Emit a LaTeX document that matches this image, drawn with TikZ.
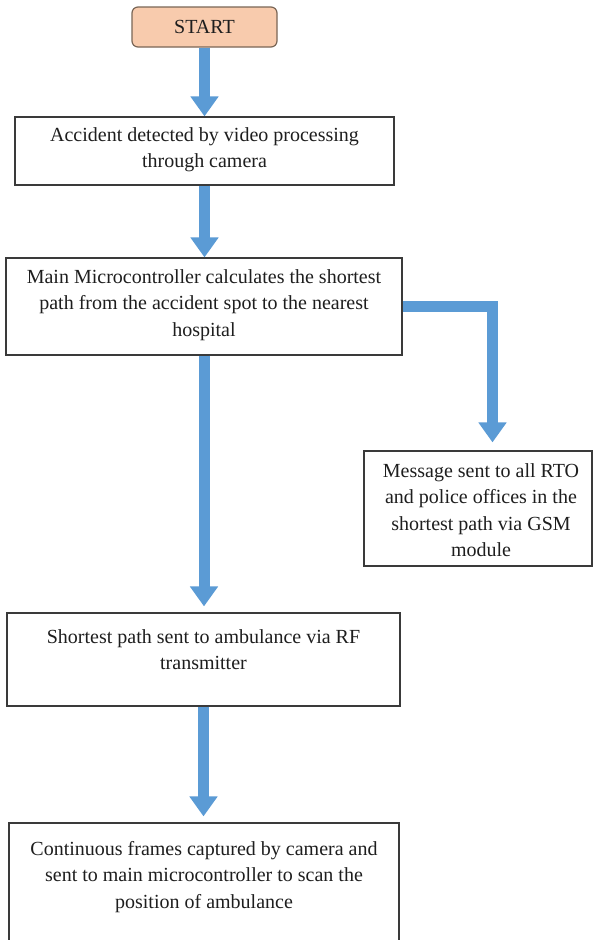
\documentclass[tikz,border=0pt]{standalone}
\usepackage{fontspec}
\setmainfont{Liberation Serif}
\usetikzlibrary{arrows.meta}
\definecolor{arrowblue}{HTML}{5B9BD5}
\definecolor{startfill}{HTML}{F8CBAD}
\definecolor{startedge}{HTML}{7A6656}
\definecolor{boxedge}{HTML}{3A3A3A}
\definecolor{txt}{HTML}{1E1E1E}
\newcommand{\flx}{\rule{0pt}{14pt}}
\begin{document}
\begin{tikzpicture}[x=1pt,y=-1pt,
  flowbox/.style={draw=boxedge,line width=1.2pt,rectangle,inner sep=0pt,fill=white},
  flowtext/.style={anchor=north,align=center,inner sep=0pt,text=txt,font=\fontsize{20}{26.5}\selectfont},
  startbox/.style={draw=startedge,line width=1.2pt,fill=startfill,rounded corners=6pt,inner sep=0pt,text=txt,font=\fontsize{20}{24}\selectfont},
  fatarrow/.style={draw=arrowblue,line width=11pt,line join=miter,-{Triangle[width=27pt,length=20pt]}}]
\useasboundingbox (0,0) rectangle (594,940);
\fill[white] (0,0) rectangle (594,940);
\clip (0,0) rectangle (594,940);

\node[startbox,minimum width=145pt,minimum height=40pt] (start) at (204.5,27) {START};
\node[flowbox,minimum width=379pt,minimum height=68pt] (b1) at (204.5,151) {};
\node[flowbox,minimum width=396pt,minimum height=97pt] (b2) at (204,306.5) {};
\node[flowbox,minimum width=228pt,minimum height=115pt] (b3) at (478,508.5) {};
\node[flowbox,minimum width=393pt,minimum height=93pt] (b4) at (203.5,659.5) {};
\node[flowbox,minimum width=390pt,minimum height=137pt] (b5) at (204,891.5) {};

\node[flowtext] (t1) at (204.5,127) {\flx Accident detected by video processing\\through camera};
\node[flowtext] (t2) at (204,269) {\flx Main Microcontroller calculates the shortest\\path from the accident spot to the nearest\\hospital};
\node[flowtext] (t3) at (481,463) {\flx Message sent to all RTO\\and police offices in the\\shortest path via GSM\\module};
\node[flowtext] (t4) at (203.5,629) {\flx Shortest path sent to ambulance via RF\\transmitter};
\node[flowtext] (t5) at (204,841) {\flx Continuous frames captured by camera and\\sent to main microcontroller to scan the\\position of ambulance};

\draw[fatarrow] (start.south) -- (b1.north);
\draw[fatarrow] (b1.south) -- (b1.south |- b2.north);
\draw[fatarrow] (b2.east) -| ([xshift=14.5pt]b3.north) [shorten >=8pt];
\draw[fatarrow,shorten >=6pt] (b2.south) -- (b2.south |- b4.north);
\draw[fatarrow,shorten >=6pt] (b4.south) -- (b4.south |- b5.north);
\end{tikzpicture}
\end{document}
